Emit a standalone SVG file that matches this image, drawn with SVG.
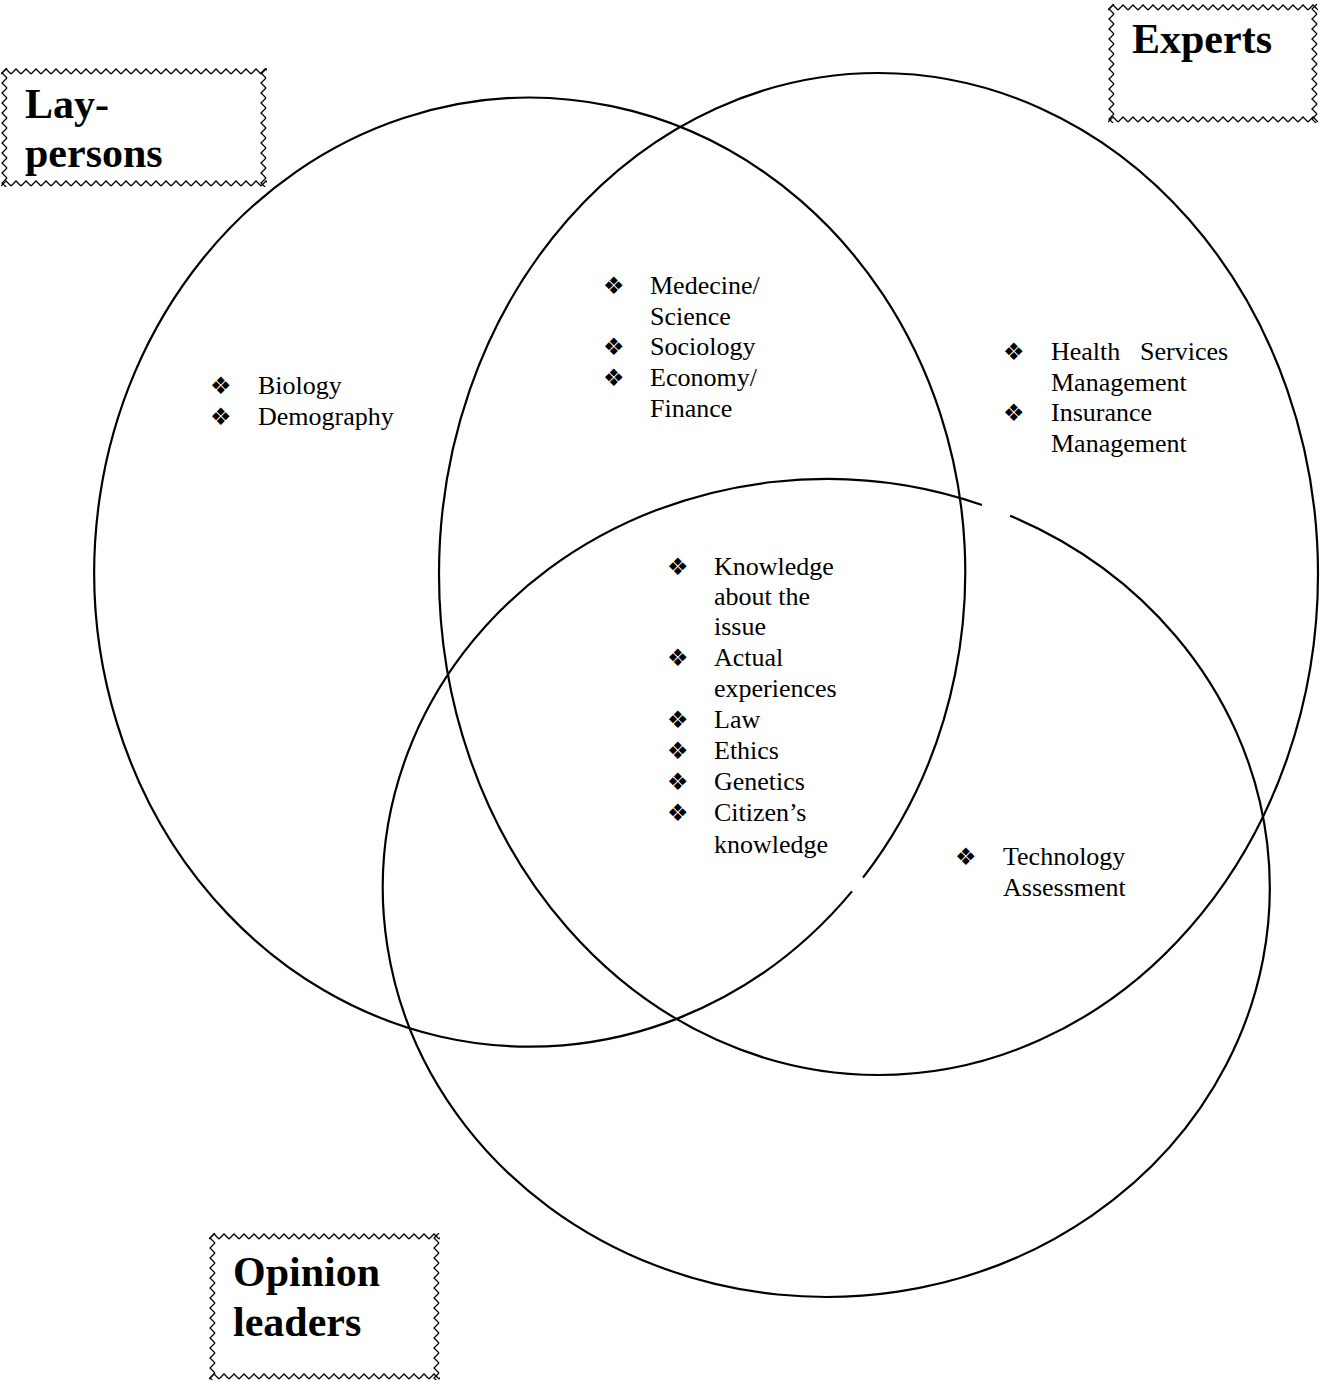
<svg xmlns="http://www.w3.org/2000/svg" width="1321" height="1381" viewBox="0 0 1321 1381">
<defs>
<pattern id="zh" width="10" height="7" patternUnits="userSpaceOnUse"><polyline points="0,6 5,1 10,6" fill="none" stroke="#000" stroke-width="1.3"/></pattern>
<pattern id="zv" width="7" height="10" patternUnits="userSpaceOnUse"><polyline points="6,0 1,5 6,10" fill="none" stroke="#000" stroke-width="1.3"/></pattern>
</defs>
<style>
.c{fill:none;stroke:#000;stroke-width:2.2}
.lbl{font-family:"Liberation Serif","Times New Roman",serif;font-weight:bold;font-size:42px;fill:#000}
.t{font-family:"Liberation Serif","Times New Roman",serif;font-size:26px;fill:#000}
.b{font-family:"DejaVu Sans",sans-serif;font-size:24px;fill:#000}
.zh{fill:url(#zh)}
.zv{fill:url(#zv)}
</style>
<rect width="1321" height="1381" fill="#fff"/>

<g id="laypersons">
<path class="c" d="M852,891.4 A435.5,474.5 0 1 1 863,877.7"/>
<g id="laypersons-label" transform="translate(1,68)">
<rect x="0" y="0" width="266" height="119" fill="#fff"/>
<rect class="zh" x="0" y="0" width="266" height="7"/>
<rect class="zh" x="0" y="112" width="266" height="7"/>
<rect class="zv" x="0" y="0" width="7" height="119"/>
<rect class="zv" x="259" y="0" width="7" height="119"/>
<text class="lbl" x="24" y="50">Lay-</text>
<text class="lbl" x="24" y="99">persons</text>
</g>
</g>

<g id="experts">
<ellipse class="c" cx="878.5" cy="574" rx="439.5" ry="501"/>
<g id="experts-label" transform="translate(1108,4)">
<rect x="0" y="0" width="210" height="119" fill="#fff"/>
<rect class="zh" x="0" y="0" width="210" height="7"/>
<rect class="zh" x="0" y="112" width="210" height="7"/>
<rect class="zv" x="0" y="0" width="7" height="119"/>
<rect class="zv" x="203" y="0" width="7" height="119"/>
<text class="lbl" x="24" y="49">Experts</text>
</g>
</g>

<g id="opinion-leaders">
<path class="c" d="M1010,515.7 A443.5,409 0 1 1 982,505"/>
<g id="opinion-label" transform="translate(209,1233)">
<rect x="0" y="0" width="231" height="147" fill="#fff"/>
<rect class="zh" x="0" y="0" width="231" height="7"/>
<rect class="zh" x="0" y="140" width="231" height="7"/>
<rect class="zv" x="0" y="0" width="7" height="147"/>
<rect class="zv" x="224" y="0" width="7" height="147"/>
<text class="lbl" x="24" y="53">Opinion</text>
<text class="lbl" x="24" y="103">leaders</text>
</g>
</g>

<g id="items-laypersons">
<text class="b" x="210" y="394">❖</text><text class="t" x="258" y="394">Biology</text>
<text class="b" x="210" y="425">❖</text><text class="t" x="258" y="425">Demography</text>
</g>

<g id="items-lay-experts">
<text class="b" x="603" y="294">❖</text><text class="t" x="650" y="294">Medecine/</text>
<text class="t" x="650" y="325">Science</text>
<text class="b" x="603" y="355">❖</text><text class="t" x="650" y="355">Sociology</text>
<text class="b" x="603" y="386">❖</text><text class="t" x="650" y="386">Economy/</text>
<text class="t" x="650" y="417">Finance</text>
</g>

<g id="items-experts">
<text class="b" x="1003" y="360">❖</text><text class="t" x="1051" y="360">Health</text><text class="t" x="1140" y="360">Services</text>
<text class="t" x="1051" y="391">Management</text>
<text class="b" x="1003" y="421">❖</text><text class="t" x="1051" y="421">Insurance</text>
<text class="t" x="1051" y="452">Management</text>
</g>

<g id="items-all">
<text class="b" x="667" y="575">❖</text><text class="t" x="714" y="575">Knowledge</text>
<text class="t" x="714" y="605">about the</text>
<text class="t" x="714" y="635">issue</text>
<text class="b" x="667" y="666">❖</text><text class="t" x="714" y="666">Actual</text>
<text class="t" x="714" y="697">experiences</text>
<text class="b" x="667" y="728">❖</text><text class="t" x="714" y="728">Law</text>
<text class="b" x="667" y="759">❖</text><text class="t" x="714" y="759">Ethics</text>
<text class="b" x="667" y="790">❖</text><text class="t" x="714" y="790">Genetics</text>
<text class="b" x="667" y="821">❖</text><text class="t" x="714" y="821">Citizen’s</text>
<text class="t" x="714" y="853">knowledge</text>
</g>

<g id="items-experts-opinion">
<text class="b" x="955" y="865">❖</text><text class="t" x="1003" y="865">Technology</text>
<text class="t" x="1003" y="896">Assessment</text>
</g>
</svg>
